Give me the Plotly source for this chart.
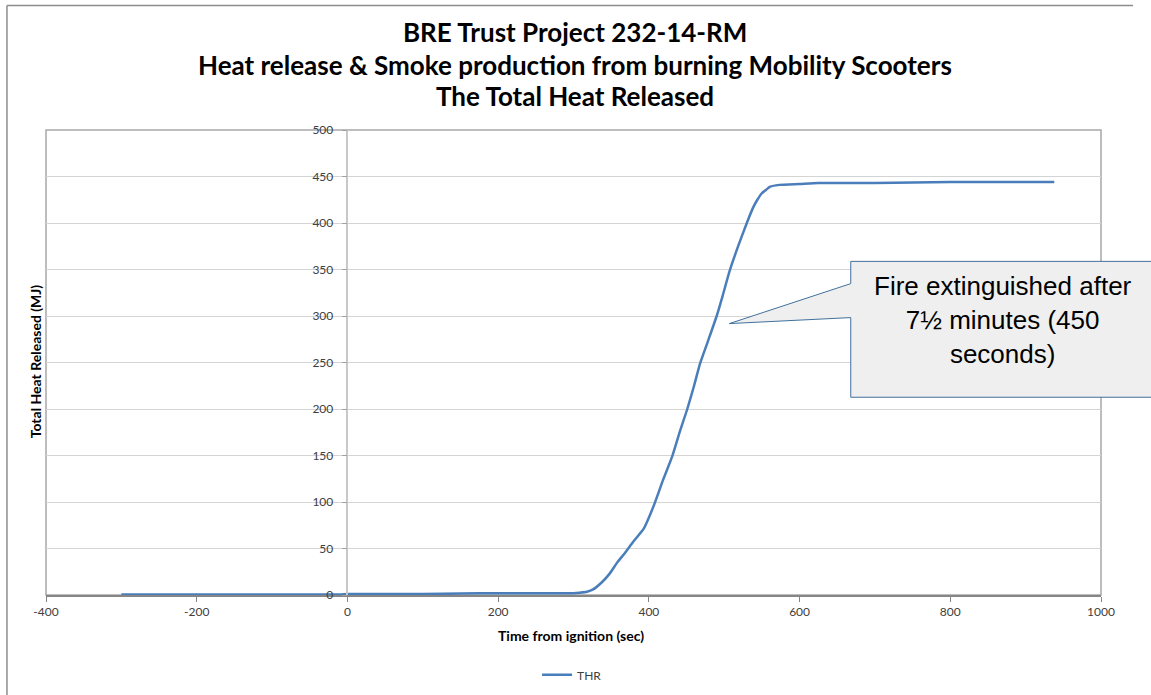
"""Total heat released from a burning mobility scooter (BRE Trust Project 232-14-RM)."""

import plotly.graph_objects as go

# Time from ignition (s) and total heat released (MJ)
time_s = [
    -300, -200, -100, -10, 0, 50, 100, 150, 200, 250, 300, 308, 318, 326,
    338, 348, 358, 368, 379, 393, 406, 419, 431, 442, 451, 460, 468, 478,
    490, 498, 507, 518, 530, 538, 544, 550, 556, 561, 573, 600, 625, 700,
    800, 938,
]
thr_mj = [
    0.5, 0.5, 0.5, 0.5, 1, 1, 1, 1.5, 2, 2, 2, 2.5, 3.5, 6,
    14, 23, 35, 45, 57, 71, 95, 124, 149, 178, 200, 225, 249, 272,
    300, 322, 348, 374, 400, 416, 425, 432, 436, 439, 441, 442, 443, 443,
    444, 444,
]

x_ticks = [-400, -200, 0, 200, 400, 600, 800, 1000]
x_tick_labels = ["-400", "-200", "0", "200", "400", "600", "800", "1000"]
y_ticks = [0, 50, 100, 150, 200, 250, 300, 350, 400, 450, 500]

title_lines = [
    "BRE Trust Project 232-14-RM",
    "Heat release & Smoke production from burning Mobility Scooters",
    "The Total Heat Released",
]
callout_text = "Fire extinguished after<br>7½ minutes (450<br>seconds)"

CALIBRI = "Lato, 'Open Sans', sans-serif"
ARIAL = "'Liberation Sans', Arial, sans-serif"
LINE_BLUE = "#4a7ebb"

fig = go.Figure(
    go.Scatter(
        x=time_s,
        y=thr_mj,
        mode="lines",
        name="THR",
        line=dict(color=LINE_BLUE, width=2.5, shape="spline", smoothing=0.5),
    )
)

fig.update_xaxes(
    range=[-400, 1000],
    tickvals=x_ticks,
    ticktext=x_tick_labels,
    showgrid=False,
    zeroline=False,
    showline=True,
    linecolor="#868686",
    linewidth=1.5,
    ticks="outside",
    ticklen=5,
    tickcolor="#868686",
    tickfont=dict(family=CALIBRI, size=12, color="#404040"),
)
fig.update_yaxes(
    range=[0, 500],
    tickvals=y_ticks,
    anchor="free",
    position=400 / 1400,
    showgrid=True,
    gridcolor="#d4d4d4",
    gridwidth=1,
    zeroline=False,
    showline=True,
    linecolor="#c8c8c8",
    linewidth=1.5,
    ticks="outside",
    ticklen=5,
    tickcolor="#a0a0a0",
    ticklabelstandoff=6,
    tickfont=dict(family=CALIBRI, size=12, color="#404040"),
)

# plot area frame and outer chart frame
shapes = [
    dict(type="rect", xref="paper", yref="paper", x0=0, x1=1, y0=0, y1=1,
         line=dict(color="#a8a8a8", width=1.5), layer="below"),
    dict(type="line", xref="paper", yref="paper", x0=-0.037, x1=-0.037,
         y0=-0.215, y1=1.2675, line=dict(color="#8c8c8c", width=1.5)),
    dict(type="line", xref="paper", yref="paper", x0=-0.037, x1=1.0303,
         y0=1.2675, y1=1.2675, line=dict(color="#8c8c8c", width=1.5)),
    # callout box with pointer
    dict(
        type="path", xref="paper", yref="paper",
        path=("M 0.7628 0.7175 L 1.08 0.7175 L 1.08 0.4253 L 0.7628 0.4253 "
              "L 0.7628 0.5966 L 0.6477 0.5837 L 0.7628 0.6696 Z"),
        fillcolor="#efefef",
        line=dict(color="#41709c", width=1),
    ),
]

annotations = [
    dict(text=f"<b>{line}</b>", xref="paper", yref="paper", x=0.501, y=y,
         xanchor="center", yanchor="middle", showarrow=False,
         font=dict(family=CALIBRI, size=26, color="#000000"))
    for line, y in zip(title_lines, [1.2116, 1.1407, 1.0741])
]
annotations += [
    dict(text="<b>Total Heat Released (MJ)</b>", xref="paper", yref="paper",
         x=-0.0104, y=0.5027, textangle=-90, showarrow=False,
         xanchor="center", yanchor="middle",
         font=dict(family=CALIBRI, size=14, color="#000000")),
    dict(text="<b>Time from ignition (sec)</b>", xref="paper", yref="paper",
         x=0.4976, y=-0.0881, showarrow=False,
         xanchor="center", yanchor="middle",
         font=dict(family=CALIBRI, size=14, color="#000000")),
    dict(text=callout_text, xref="paper", yref="paper",
         x=0.9071, y=0.5908, showarrow=False,
         xanchor="center", yanchor="middle", align="center",
         font=dict(family=ARIAL, size=26, color="#000000")),
]

fig.update_layout(
    width=1151,
    height=695,
    margin=dict(l=46, r=50, t=130, b=100),
    paper_bgcolor="white",
    plot_bgcolor="white",
    showlegend=True,
    legend=dict(
        orientation="h",
        xref="container",
        yref="container",
        x=0.497,
        y=0.029,
        xanchor="center",
        yanchor="middle",
        font=dict(family=CALIBRI, size=12, color="#404040"),
        itemwidth=30,
    ),
    shapes=shapes,
    annotations=annotations,
)

# the page body has an 8px default margin; drop it so the chart sits at 0,0
fig.write_html(
    "out.html",
    config={"displayModeBar": False},
    post_script="document.body.style.margin='0';",
)
